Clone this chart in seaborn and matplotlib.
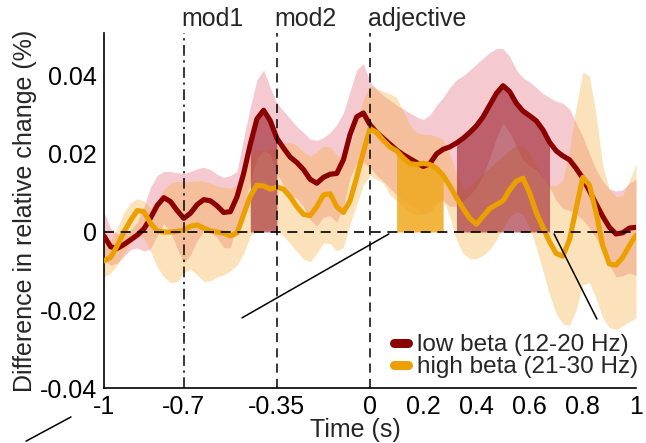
import numpy as np
import pandas as pd
import matplotlib
matplotlib.use("Agg")
import matplotlib.pyplot as plt
import seaborn as sns
from matplotlib.lines import Line2D

# ---------------- data ----------------
time_s = np.linspace(-1.0, 1.0, 81)

low_mean = [
    -0.0010, -0.0038, -0.0042, -0.0032, -0.0020, -0.0008, 0.0008, 0.0036, 0.0068, 0.0088,
    0.0078, 0.0055, 0.0035, 0.0048, 0.0070, 0.0083, 0.0080, 0.0067, 0.0050, 0.0052,
    0.0090, 0.0150, 0.0225, 0.0290, 0.0312, 0.0285, 0.0240, 0.0215, 0.0192, 0.0178,
    0.0160, 0.0135, 0.0125, 0.0140, 0.0148, 0.0150, 0.0185, 0.0250, 0.0295, 0.0305,
    0.0275, 0.0255, 0.0240, 0.0225, 0.0210, 0.0198, 0.0188, 0.0178, 0.0168, 0.0175,
    0.0200, 0.0212, 0.0218, 0.0228, 0.0240, 0.0255, 0.0272, 0.0295, 0.0325, 0.0355,
    0.0375, 0.0360, 0.0330, 0.0310, 0.0298, 0.0285, 0.0262, 0.0230, 0.0208, 0.0195,
    0.0185, 0.0163, 0.0138, 0.0105, 0.0072, 0.0040, 0.0012, -0.0005, -0.0002, 0.0010,
    0.0012]
low_upper = [
    0.0050, 0.0010, -0.0005, -0.0002, 0.0005, 0.0025, 0.0065, 0.0115, 0.0145, 0.0155,
    0.0155, 0.0152, 0.0150, 0.0155, 0.0162, 0.0166, 0.0160, 0.0148, 0.0140, 0.0145,
    0.0155, 0.0240, 0.0320, 0.0390, 0.0415, 0.0370, 0.0330, 0.0310, 0.0290, 0.0270,
    0.0255, 0.0238, 0.0235, 0.0242, 0.0255, 0.0275, 0.0305, 0.0360, 0.0415, 0.0432,
    0.0385, 0.0365, 0.0350, 0.0338, 0.0325, 0.0315, 0.0305, 0.0295, 0.0288, 0.0300,
    0.0325, 0.0345, 0.0370, 0.0390, 0.0400, 0.0415, 0.0430, 0.0445, 0.0460, 0.0470,
    0.0470, 0.0450, 0.0415, 0.0395, 0.0385, 0.0370, 0.0355, 0.0345, 0.0335, 0.0330,
    0.0315, 0.0280, 0.0245, 0.0200, 0.0160, 0.0130, 0.0110, 0.0105, 0.0108, 0.0125,
    0.0135]
low_lower = [
    -0.0070, -0.0086, -0.0079, -0.0062, -0.0045, -0.0041, -0.0049, -0.0043, -0.0009, 0.0021,
    0.0001, -0.0042, -0.0080, -0.0059, -0.0022, 0.0000, 0.0000, -0.0014, -0.0040, -0.0041,
    0.0025, 0.0060, 0.0130, 0.0190, 0.0209, 0.0200, 0.0150, 0.0120, 0.0094, 0.0086,
    0.0065, 0.0032, 0.0015, 0.0038, 0.0041, 0.0025, 0.0065, 0.0140, 0.0175, 0.0178,
    0.0165, 0.0145, 0.0130, 0.0112, 0.0095, 0.0081, 0.0071, 0.0061, 0.0048, 0.0050,
    0.0075, 0.0079, 0.0066, 0.0066, 0.0080, 0.0095, 0.0114, 0.0145, 0.0190, 0.0240,
    0.0280, 0.0255, 0.0220, 0.0185, 0.0170, 0.0160, 0.0140, 0.0115, 0.0081, 0.0060,
    0.0055, 0.0046, 0.0031, 0.0010, -0.0016, -0.0050, -0.0086, -0.0115, -0.0112, -0.0105,
    -0.0111]

high_mean = [
    -0.0074, -0.0065, -0.0035, 0.0000, 0.0030, 0.0055, 0.0052, 0.0022, 0.0003, 0.0000,
    0.0000, 0.0002, 0.0005, 0.0015, 0.0018, 0.0010, 0.0003, 0.0000, -0.0003, -0.0010,
    -0.0002, 0.0045, 0.0092, 0.0120, 0.0118, 0.0110, 0.0115, 0.0110, 0.0090, 0.0065,
    0.0045, 0.0042, 0.0065, 0.0095, 0.0098, 0.0065, 0.0050, 0.0080, 0.0140, 0.0205,
    0.0265, 0.0255, 0.0235, 0.0218, 0.0208, 0.0190, 0.0175, 0.0173, 0.0176, 0.0173,
    0.0163, 0.0145, 0.0118, 0.0088, 0.0060, 0.0035, 0.0020, 0.0040, 0.0060, 0.0070,
    0.0080, 0.0108, 0.0130, 0.0138, 0.0100, 0.0050, 0.0012, -0.0025, -0.0055, -0.0062,
    -0.0020, 0.0060, 0.0140, 0.0120, 0.0050, -0.0035, -0.0082, -0.0085, -0.0065, -0.0035,
    -0.0008]
high_upper = [
    -0.0030, -0.0020, 0.0010, 0.0050, 0.0075, 0.0085, 0.0080, 0.0060, 0.0080, 0.0110,
    0.0125, 0.0130, 0.0128, 0.0130, 0.0132, 0.0130, 0.0125, 0.0118, 0.0115, 0.0112,
    0.0120, 0.0155, 0.0195, 0.0210, 0.0210, 0.0212, 0.0220, 0.0228, 0.0230, 0.0222,
    0.0205, 0.0195, 0.0205, 0.0220, 0.0218, 0.0198, 0.0186, 0.0220, 0.0280, 0.0340,
    0.0375, 0.0368, 0.0360, 0.0355, 0.0344, 0.0310, 0.0275, 0.0255, 0.0250, 0.0250,
    0.0245, 0.0237, 0.0200, 0.0150, 0.0110, 0.0115, 0.0135, 0.0150, 0.0165, 0.0180,
    0.0195, 0.0210, 0.0222, 0.0222, 0.0200, 0.0170, 0.0140, 0.0120, 0.0118, 0.0135,
    0.0210, 0.0320, 0.0410, 0.0400, 0.0300, 0.0170, 0.0110, 0.0090, 0.0095, 0.0130,
    0.0175]
high_lower = [
    -0.0115, -0.0105, -0.0085, -0.0055, -0.0030, -0.0010, -0.0015, -0.0050, -0.0090, -0.0115,
    -0.0130, -0.0128, -0.0105, -0.0095, -0.0110, -0.0127, -0.0125, -0.0115, -0.0110, -0.0100,
    -0.0085, -0.0055, -0.0010, 0.0003, 0.0005, 0.0008, 0.0005, -0.0010, -0.0030, -0.0050,
    -0.0070, -0.0076, -0.0055, -0.0028, -0.0030, -0.0048, -0.0040, 0.0020, 0.0070, 0.0120,
    0.0145, 0.0135, 0.0125, 0.0095, 0.0080, 0.0065, 0.0050, 0.0045, 0.0045, 0.0055,
    0.0075, 0.0085, 0.0040, -0.0020, -0.0055, -0.0068, -0.0068, -0.0060, -0.0045, -0.0020,
    0.0010, 0.0040, 0.0052, 0.0045, 0.0010, -0.0040, -0.0100, -0.0160, -0.0210, -0.0235,
    -0.0240, -0.0200, -0.0135, -0.0130, -0.0170, -0.0220, -0.0245, -0.0250, -0.0240, -0.0230,
    -0.0220]

series_names = ["low beta (12-20 Hz)", "high beta (21-30 Hz)"]
low_sig_windows = [(-0.45, -0.35), (0.325, 0.675)]
high_sig_windows = [(0.1, 0.275)]

event_times = [-0.7, -0.35, 0.0]
event_labels = ["mod1", "mod2", "adjective"]

x_ticks = [-1, -0.7, -0.35, 0, 0.2, 0.4, 0.6, 0.8, 1]
x_ticklabels = ["-1", "-0.7", "-0.35", "0", "0.2", "0.4", "0.6", "0.8", "1"]
y_ticks = [-0.04, -0.02, 0, 0.02, 0.04]
y_ticklabels = ["-0.04", "-0.02", "0", "0.02", "0.04"]

# stray annotation strokes present in the source figure (data coords)
stray_segments = [((-0.481, -0.0220), (0.071, -0.0005)),
                  ((0.692, -0.0005), (0.853, -0.0223)),
                  ((-1.293, -0.0536), (-1.124, -0.0474))]

# ---------------- style ----------------
sns.set_style("white")
plt.rcParams["font.family"] = ["Liberation Sans", "DejaVu Sans"]

RED = "#8B0000"
ORANGE = "#EBA000"
FS = 18

fig = plt.figure(figsize=(6.46, 4.43), dpi=100)
ax = fig.add_axes([0.161, 0.124, 0.8235, 0.8015])

# CI bands
ax.fill_between(time_s, low_lower, low_upper, color="#E8788A", alpha=0.40, lw=0, zorder=1)
ax.fill_between(time_s, high_lower, high_upper, color="#F5B041", alpha=0.36, lw=0, zorder=1.1)

low_arr = np.array(low_mean)
high_arr = np.array(high_mean)
for a, b in low_sig_windows:
    m = (time_s >= a - 1e-9) & (time_s <= b + 1e-9)
    ax.fill_between(time_s, 0, low_arr, where=m, color="#9A1A28", alpha=0.6, lw=0, zorder=2)
for a, b in high_sig_windows:
    m = (time_s >= a - 1e-9) & (time_s <= b + 1e-9)
    ax.fill_between(time_s, 0, high_arr, where=m, color="#F0A81E", alpha=0.85, lw=0, zorder=2)

# mean lines via seaborn
df = pd.DataFrame({
    "time": np.concatenate([time_s, time_s]),
    "value": np.concatenate([low_arr, high_arr]),
    "band": [series_names[0]] * len(time_s) + [series_names[1]] * len(time_s),
})
sns.lineplot(data=df, x="time", y="value", hue="band", hue_order=series_names,
             palette=[RED, ORANGE], linewidth=3.7, ax=ax, legend=False, zorder=4)
for ln in ax.lines:
    ln.set_solid_capstyle("round")
    ln.set_solid_joinstyle("round")
    ln.set_zorder(4)

# zero line
ax.axhline(0, color="black", lw=1.2, ls=(0, (6, 4)), zorder=5)

# event lines
styles = [(0, (7, 3, 1.5, 3)), (0, (6, 4)), (0, (6, 4))]
for t, lab, st in zip(event_times, event_labels, styles):
    ax.axvline(t, color="black", lw=1.1, ls=st, zorder=5)
    ax.text(t - 0.008, 0.0545, lab, fontsize=FS, ha="left", va="center", clip_on=False)

for (x0, y0), (x1, y1) in stray_segments:
    ax.plot([x0, x1], [y0, y1], color="black", lw=1.1, clip_on=False, zorder=6)

ax.set_xlim(-1, 1)
ax.set_ylim(-0.04, 0.051)
ax.set_xticks(x_ticks)
ax.set_xticklabels(x_ticklabels, fontsize=FS)
ax.set_yticks(y_ticks)
ax.set_yticklabels(y_ticklabels, fontsize=FS)
ax.tick_params(axis="both", direction="out", length=4, width=1, pad=1, colors="black")
ax.set_xlabel("Time (s)", fontsize=FS, labelpad=0)
ax.xaxis.set_label_coords(0.472, -0.083)
ax.set_ylabel("Difference in relative change (%)", fontsize=FS, labelpad=2)
sns.despine(ax=ax)
for s in ["left", "bottom"]:
    ax.spines[s].set_color("black")
    ax.spines[s].set_linewidth(1.2)

handles = [Line2D([0], [0], color=RED, lw=6.5), Line2D([0], [0], color=ORANGE, lw=6.5)]
ax.legend(handles, series_names, loc="lower right", bbox_to_anchor=(1.022, 0.0),
          frameon=False, fontsize=17.5, handlelength=0.6, handletextpad=0.35,
          labelspacing=0.0, borderaxespad=0)

fig.savefig("out.png", dpi=100)
